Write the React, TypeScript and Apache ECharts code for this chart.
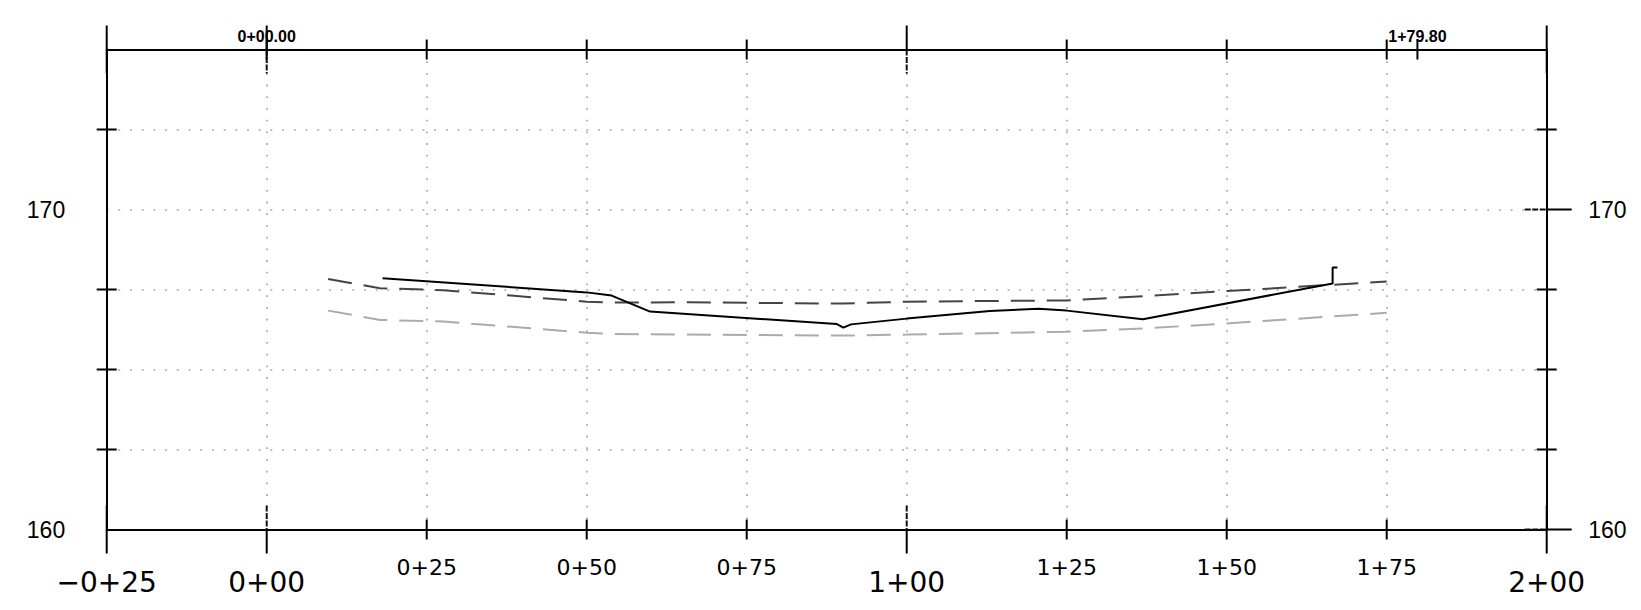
import React, { useEffect, useRef } from 'react';
import * as echarts from 'echarts';

// ---- Data ----
const solidStations = [18.1, 50, 53.9, 59.9, 89.1, 90.1, 91.3, 100, 113, 120.6, 125, 136.9, 166.55, 166.55, 167.3];
const solidElevations = [167.85, 167.41, 167.31, 166.81, 166.42, 166.31, 166.41, 166.59, 166.83, 166.9, 166.84, 166.57, 167.69, 168.19, 168.19];

const darkStations = [9.6, 17.7, 27.6, 50, 54, 66, 90, 100, 125, 138, 150, 175];
const darkElevations = [167.83, 167.54, 167.48, 167.12, 167.09, 167.1, 167.06, 167.12, 167.16, 167.3, 167.45, 167.75];

const lightStations = [9.6, 17.7, 27.6, 50, 54, 90, 100, 125, 137, 150, 175];
const lightElevations = [166.84, 166.55, 166.5, 166.15, 166.11, 166.06, 166.09, 166.18, 166.28, 166.44, 166.77];

const xTickValues = [-25, 0, 25, 50, 75, 100, 125, 150, 175, 200];
const xTickLabels = ['−0+25', '0+00', '0+25', '0+50', '0+75', '1+00', '1+25', '1+50', '1+75', '2+00'];
const xBigLabelValues = [-25, 0, 100, 200];
const xMinorTicks = [25, 50, 75, 125, 150, 175];
const xMajorTicks = [-25, 0, 100, 200];
const xMajorInnerDashed = [0, 100];

const yLabelValues = [160, 170];
const yMinorTicks = [162.5, 165, 167.5, 172.5];
const yMajorTicks = [160, 170];

const stationMarks = [0, 179.8];
const stationMarkLabels = ['0+00.00', '1+79.80'];

const X_MIN = -25, X_MAX = 200, Y_MIN = 160, Y_MAX = 175;

const zip = (xs: number[], ys: number[]) => xs.map((x, i) => [x, ys[i]]);
const near = (a: number, b: number) => Math.abs(a - b) < 1e-6;

const labelFor = (v: number, big: boolean) => {
  const i = xTickValues.findIndex((t) => near(t, v));
  if (i < 0) return '';
  const isBig = xBigLabelValues.some((b) => near(b, v));
  return isBig === big ? xTickLabels[i] : '';
};

const line = (x1: number, y1: number, x2: number, y2: number, dashed = false) => ({
  type: 'line',
  shape: { x1, y1, x2, y2 },
  style: dashed
    ? { stroke: '#111', lineWidth: 2, lineDash: [6, 1.5] }
    : { stroke: '#000', lineWidth: 2 },
});

export default function App() {
  const ref = useRef<HTMLDivElement>(null);

  useEffect(() => {
    if (!ref.current) return;
    const chart = echarts.init(ref.current, undefined, { renderer: 'svg' });

    const gridSplit = { show: true, lineStyle: { color: '#a3a3a3', width: 1.6, type: [1.8, 9.9] } };

    const option: any = {
      animation: false,
      grid: { left: 106.7, right: 94.3, top: 49.5, bottom: 80.5 },
      xAxis: [
        {
          type: 'value', position: 'bottom', min: X_MIN, max: X_MAX, interval: 25,
          axisLine: { show: true, onZero: false, lineStyle: { color: '#000', width: 2 } },
          axisTick: { show: false },
          axisLabel: {
            show: true, margin: 26.5, color: '#000', fontFamily: 'DejaVu Sans', fontSize: 22,
            lineHeight: 22, formatter: (v: number) => labelFor(v, false),
          },
          splitLine: gridSplit,
        },
        {
          type: 'value', position: 'bottom', min: X_MIN, max: X_MAX, interval: 25,
          axisLine: { show: false, onZero: false },
          axisTick: { show: false },
          axisLabel: {
            show: true, margin: 39, color: '#000', fontFamily: 'DejaVu Sans', fontSize: 28,
            lineHeight: 28, formatter: (v: number) => labelFor(v, true),
          },
          splitLine: { show: false },
        },
        {
          type: 'value', position: 'top', min: X_MIN, max: X_MAX, interval: 25,
          axisLine: { show: true, onZero: false, lineStyle: { color: '#000', width: 2 } },
          axisTick: { show: false },
          axisLabel: { show: false },
          splitLine: { show: false },
        },
      ],
      yAxis: [
        {
          type: 'value', position: 'left', min: Y_MIN, max: Y_MAX, interval: 2.5,
          axisLine: { show: true, onZero: false, lineStyle: { color: '#000', width: 2 } },
          axisTick: { show: false },
          axisLabel: {
            show: true, margin: 41.5, color: '#000', fontFamily: 'Liberation Sans', fontSize: 23,
            formatter: (v: number) => (yLabelValues.some((y) => near(y, v)) ? String(v) : ''),
          },
          splitLine: gridSplit,
        },
        {
          type: 'value', position: 'right', min: Y_MIN, max: Y_MAX, interval: 2.5,
          axisLine: { show: true, onZero: false, lineStyle: { color: '#000', width: 2 } },
          axisTick: { show: false },
          axisLabel: {
            show: true, margin: 41.5, color: '#000', fontFamily: 'Liberation Sans', fontSize: 23,
            formatter: (v: number) => (yLabelValues.some((y) => near(y, v)) ? String(v) : ''),
          },
          splitLine: { show: false },
        },
      ],
      series: [
        {
          type: 'line', name: 'light', data: zip(lightStations, lightElevations), showSymbol: false,
          lineStyle: { color: '#ababab', width: 2, type: [24, 12] }, z: 3,
        },
        {
          type: 'line', name: 'dark', data: zip(darkStations, darkElevations), showSymbol: false,
          lineStyle: { color: '#444', width: 2, type: [24, 12] }, z: 4,
        },
        {
          type: 'line', name: 'ground', data: zip(solidStations, solidElevations), showSymbol: false,
          lineStyle: { color: '#000', width: 2 }, z: 5,
        },
        {
          type: 'custom', name: 'xMinorTicks', silent: true, z: 6,
          data: xMinorTicks.map((v) => [v, Y_MIN]),
          renderItem: (_p: any, api: any) => {
            const v = api.value(0);
            const b = api.coord([v, Y_MIN]);
            const t = api.coord([v, Y_MAX]);
            return { type: 'group', children: [line(b[0], b[1] - 10, b[0], b[1] + 10), line(t[0], t[1] - 10, t[0], t[1] + 10)] };
          },
        },
        {
          type: 'custom', name: 'xMajorTicks', silent: true, z: 6,
          data: xMajorTicks.map((v) => [v, Y_MIN]),
          renderItem: (_p: any, api: any) => {
            const v = api.value(0);
            const b = api.coord([v, Y_MIN]);
            const t = api.coord([v, Y_MAX]);
            const dashedInner = xMajorInnerDashed.some((d) => near(d, v));
            return {
              type: 'group',
              children: [
                line(b[0], b[1] - 24, b[0], b[1], dashedInner),
                line(b[0], b[1], b[0], b[1] + 24),
                line(t[0], t[1] - 24, t[0], t[1]),
                line(t[0], t[1], t[0], t[1] + 24, dashedInner),
              ],
            };
          },
        },
        {
          type: 'custom', name: 'yMinorTicks', silent: true, z: 6,
          data: yMinorTicks.map((v) => [X_MIN, v]),
          renderItem: (_p: any, api: any) => {
            const v = api.value(1);
            const l = api.coord([X_MIN, v]);
            const r = api.coord([X_MAX, v]);
            return { type: 'group', children: [line(l[0] - 10, l[1], l[0] + 10, l[1]), line(r[0] - 10, r[1], r[0] + 10, r[1])] };
          },
        },
        {
          type: 'custom', name: 'yMajorTicks', silent: true, z: 6,
          data: yMajorTicks.map((v) => [X_MAX, v]),
          renderItem: (_p: any, api: any) => {
            const v = api.value(1);
            const r = api.coord([X_MAX, v]);
            return {
              type: 'group',
              children: [line(r[0] - 22, r[1], r[0], r[1], true), line(r[0], r[1], r[0] + 25, r[1])],
            };
          },
        },
        {
          type: 'custom', name: 'stationMarks', silent: true, z: 7,
          data: stationMarks.map((v, i) => [v, Y_MAX, i]),
          renderItem: (_p: any, api: any) => {
            const v = api.value(0);
            const i = api.value(2);
            const t = api.coord([v, Y_MAX]);
            return {
              type: 'group',
              children: [
                line(t[0], t[1] - 10, t[0], t[1] + 10),
                {
                  type: 'text',
                  x: t[0], y: t[1] - 13.5,
                  style: {
                    text: stationMarkLabels[i], align: 'center', verticalAlign: 'middle',
                    fontSize: 16, fontFamily: 'Liberation Sans', fontWeight: 'bold', fill: '#000',
                  },
                },
              ],
            };
          },
        },
      ],
    };

    chart.setOption(option);
    return () => chart.dispose();
  }, []);

  return (
    <div
      ref={ref}
      style={{ position: 'fixed', left: 0, top: 0, width: 1641, height: 610, background: '#fff' }}
    />
  );
}
